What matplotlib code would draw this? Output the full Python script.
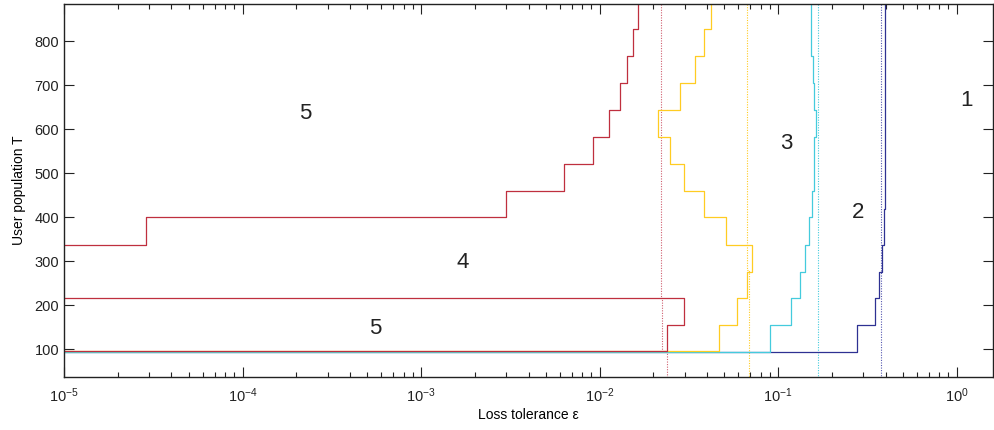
import matplotlib
matplotlib.use("Agg")
import matplotlib.pyplot as plt
from matplotlib.ticker import LogLocator, NullFormatter

plt.rcParams["font.family"] = ["Liberation Sans", "DejaVu Sans"]
plt.rcParams["mathtext.fontset"] = "custom"
plt.rcParams["mathtext.rm"] = "Liberation Sans"
plt.rcParams["mathtext.it"] = "Liberation Sans:italic"
plt.rcParams["axes.unicode_minus"] = False

# step boundaries (loss tolerance, user population)
red_upper_x = [1e-5, 2.88e-5, 2.88e-5, 2.98e-3, 2.98e-3, 6.35e-3, 6.35e-3, 9.2e-3, 9.2e-3,
               1.13e-2, 1.13e-2, 1.30e-2, 1.30e-2, 1.42e-2, 1.42e-2, 1.53e-2, 1.53e-2,
               1.64e-2, 1.64e-2]
red_upper_y = [338, 338, 400, 400, 460, 460, 522, 522, 583, 583, 645, 645, 706, 706, 767,
               767, 828, 828, 900]

red_lower_x = [1e-5, 2.99e-2, 2.99e-2, 2.38e-2, 2.38e-2, 1e-5]
red_lower_y = [216, 216, 155, 155, 96.8, 96.8]

yellow_x = [1e-5, 4.69e-2, 4.69e-2, 5.91e-2, 5.91e-2, 6.68e-2, 6.68e-2, 7.18e-2, 7.18e-2,
            5.09e-2, 5.09e-2, 3.87e-2, 3.87e-2, 2.99e-2, 2.99e-2, 2.48e-2, 2.48e-2,
            2.12e-2, 2.12e-2, 2.84e-2, 2.84e-2, 3.41e-2, 3.41e-2, 3.87e-2, 3.87e-2,
            4.20e-2, 4.20e-2]
yellow_y = [96.5, 96.5, 155, 155, 216, 216, 277, 277, 338, 338, 400, 400, 460, 460, 522,
            522, 583, 583, 645, 645, 706, 706, 767, 767, 828, 828, 900]

cyan_x = [1e-5, 9.02e-2, 9.02e-2, 0.118, 0.118, 0.133, 0.133, 0.142, 0.142, 0.149, 0.149,
          0.154, 0.154, 0.159, 0.159, 0.164, 0.164, 0.159, 0.159, 0.156, 0.156, 0.152,
          0.152]
cyan_y = [94.5, 94.5, 155, 155, 216, 216, 277, 277, 338, 338, 400, 400, 460, 460, 583,
          583, 645, 645, 706, 706, 767, 767, 900]

blue_x = [1e-5, 0.278, 0.278, 0.349, 0.349, 0.369, 0.369, 0.381, 0.381, 0.393, 0.393,
          0.398, 0.398]
blue_y = [93.5, 93.5, 155, 155, 216, 216, 277, 277, 338, 338, 420, 420, 900]

# dotted thresholds
red_dot_x = [0.0222, 0.0222, 0.0225, 0.0225, 0.0238, 0.0238]
red_dot_y = [900, 216, 216, 97, 97, 0]
yellow_dot_x = [0.0668, 0.0668, 0.0684, 0.0684]
yellow_dot_y = [900, 280, 280, 0]
cyan_dot_x = [0.168, 0.168]
cyan_dot_y = [900, 0]
blue_dot_x = [0.375, 0.375]
blue_dot_y = [900, 0]

region_labels = ["5", "4", "5", "3", "2", "1"]
region_x = [2.24e-4, 1.72e-3, 5.52e-4, 0.111, 0.281, 1.13]
region_y = [637, 298, 148, 569, 412, 666]

c_red = "#bf2f3e"
c_yellow = "#ffcc22"
c_cyan = "#44cbdd"
c_blue = "#2e3192"

fig = plt.figure(figsize=(9.94, 4.30), dpi=100)
ax = fig.add_axes([0.0644, 0.124, 0.9346, 0.8667])

dots = (0, (1, 1.3))
ax.plot(red_dot_x, red_dot_y, color="#d06070", lw=0.8, ls=dots)
ax.plot(yellow_dot_x, yellow_dot_y, color=c_yellow, lw=0.8, ls=dots)
ax.plot(cyan_dot_x, cyan_dot_y, color=c_cyan, lw=0.8, ls=dots)
ax.plot(blue_dot_x, blue_dot_y, color="#5558b0", lw=0.8, ls=dots)

ax.plot(blue_x, blue_y, color=c_blue, lw=0.9)
ax.plot(cyan_x, cyan_y, color=c_cyan, lw=0.9)
ax.plot(yellow_x, yellow_y, color=c_yellow, lw=0.9)
ax.plot(red_upper_x, red_upper_y, color=c_red, lw=0.9)
ax.plot(red_lower_x, red_lower_y, color=c_red, lw=0.9)

for lab, lx, ly in zip(region_labels, region_x, region_y):
    ax.text(lx, ly, lab, fontsize=16, ha="center", va="center", color="#222222")

ax.set_xscale("log")
ax.set_xlim(1e-5, 1.6)
ax.set_ylim(38, 885)
ax.set_yticks([100, 200, 300, 400, 500, 600, 700, 800])
ax.xaxis.set_major_locator(LogLocator(base=10, numticks=10))
ax.xaxis.set_minor_locator(LogLocator(base=10, subs=range(2, 10), numticks=100))
ax.xaxis.set_minor_formatter(NullFormatter())

ax.tick_params(which="both", direction="in", top=True, right=True, labelsize=10.5,
               colors="#222222", width=0.8)
ax.tick_params(which="major", length=7)
ax.tick_params(which="minor", length=3.5)
ax.tick_params(axis="x", pad=7)
for s in ax.spines.values():
    s.set_linewidth(1.0)
    s.set_color("#222222")

ax.set_xlabel("Loss tolerance ε", fontsize=10, labelpad=2)
ax.set_ylabel("User population T", fontsize=10, labelpad=6)

fig.savefig("out.png", dpi=100)
